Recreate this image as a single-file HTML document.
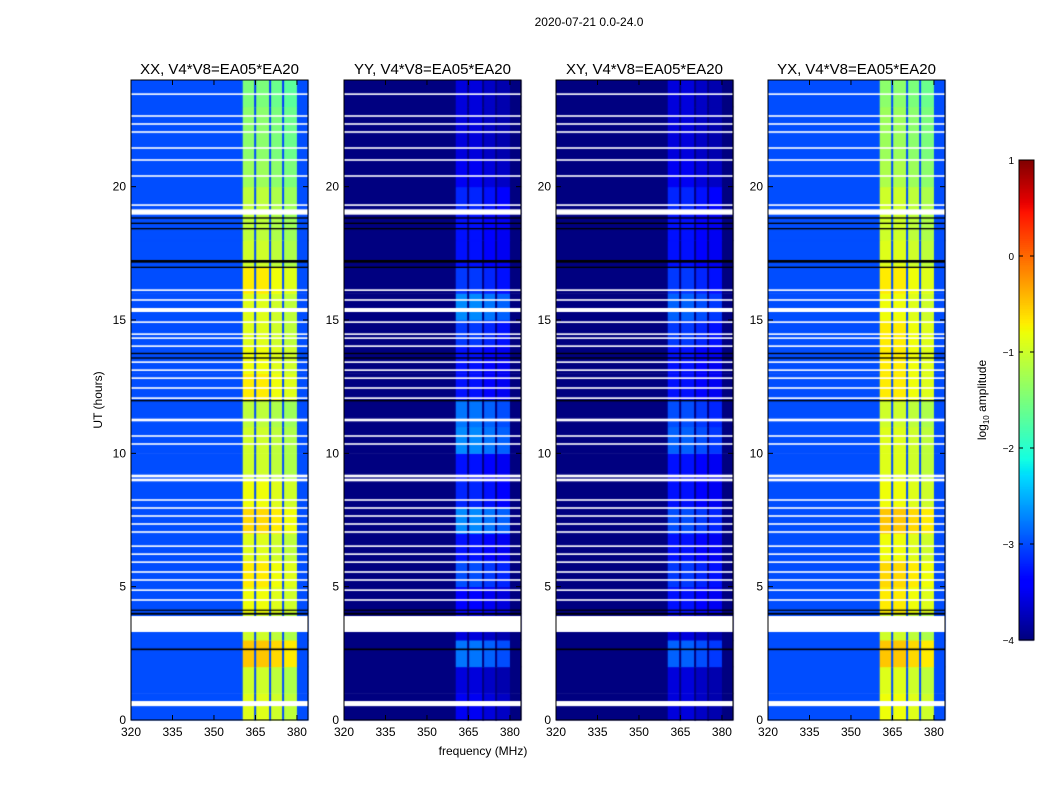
<!DOCTYPE html>
<html><head><meta charset="utf-8"><style>
body{margin:0;background:#fff;width:1050px;height:800px;overflow:hidden;font-family:"Liberation Sans",sans-serif}
#wrap{position:relative;width:1050px;height:800px}
canvas{position:absolute}
svg{position:absolute;left:0;top:0}
</style></head><body>
<div id="wrap">
<svg id="ov" width="1050" height="800"></svg>
</div>
<script>
// ---- data ----
const panelTitles=["XX, V4*V8=EA05*EA20","YY, V4*V8=EA05*EA20","XY, V4*V8=EA05*EA20","YX, V4*V8=EA05*EA20"];
const freqEdges=[320,360.4,365,370.3,375,380,384];
const gapFreqs=[364.9,370.3,375.0];
const bgLevel=[-3.0,-4.0,-4.0,-3.0];
const subOffset=[0,0,-0.1,-0.2];
const bandXX=[-0.9,-1.0,-0.5,-1.0,-0.8,-0.7,-0.9,-0.6,-0.8,-1.0,-1.0,-1.1,-0.7,-0.8,-0.9,-0.9,-0.7,-1.0,-1.1,-1.1,-1.3,-1.4,-1.4,-1.5];
const bandYY=[-3.5,-3.6,-2.8,-3.6,-3.4,-3.0,-3.3,-2.7,-3.2,-3.3,-2.7,-2.8,-3.3,-3.3,-3.1,-2.7,-3.1,-3.3,-3.3,-3.2,-3.5,-3.6,-3.6,-3.6];
const bandXY=[-3.6,-3.6,-2.9,-3.6,-3.3,-3.1,-3.3,-3.0,-3.3,-3.3,-2.9,-3.0,-3.3,-3.3,-3.1,-2.9,-3.1,-3.3,-3.3,-3.2,-3.5,-3.6,-3.6,-3.6];
const bandYX=[-0.8,-0.9,-0.5,-1.0,-0.7,-0.6,-0.8,-0.5,-0.8,-0.9,-0.9,-1.0,-0.7,-0.7,-0.7,-0.8,-0.7,-0.9,-1.0,-1.0,-1.2,-1.3,-1.3,-1.4];
const bands=[bandXX,bandYY,bandXY,bandYX];
const whiteRows=[[23.44,23.5],[22.62,22.68],[22.32,22.38],[22.02,22.08],[21.42,21.48],[20.97,21.03],[20.37,20.43],[19.28,19.34],[18.95,19.15],[16.09,16.15],[15.72,15.78],[15.3,15.45],[14.89,14.95],[14.44,14.5],[14.29,14.35],[13.99,14.05],[13.39,13.45],[13.09,13.15],[12.79,12.85],[12.42,12.48],[12.04,12.1],[11.2,11.3],[10.62,10.68],[10.32,10.38],[9.1,9.2],[8.95,9.05],[8.22,8.28],[7.92,7.98],[7.62,7.68],[7.32,7.38],[7.02,7.08],[6.49,6.55],[6.19,6.25],[5.89,5.95],[5.52,5.58],[5.22,5.28],[4.84,4.9],[4.47,4.53],[3.3,3.9],[0.52,0.71]];
const blackRows=[[18.4,18.45],[18.6,18.65],[18.8,18.85],[16.95,17.0],[17.15,17.25],[13.55,13.6],[13.72,13.77],[11.95,12.0],[3.95,4.02],[4.1,4.14],[2.62,2.68]];
const yTicks=[0,5,10,15,20];
const xTicks=[320,335,350,365,380];
const cbTicks=[1,0,-1,-2,-3,-4];
// ---- layout ----
const panelX=[131,344,556,768], PW=177, PT=80, PB=720;
const fMin=320,fMax=384,tMax=24;
const xs=(i,f)=>panelX[i]+(f-fMin)/(fMax-fMin)*PW;
const ys=t=>PB-t/tMax*(PB-PT);
function interp(x,pts){for(let i=0;i<pts.length-1;i++){const a=pts[i],b=pts[i+1];if(x<=b[0]){return a[1]+(b[1]-a[1])*(x-a[0])/(b[0]-a[0]);}}return pts[pts.length-1][1];}
function jet(v){let x=(v+4)/5;x=Math.max(0,Math.min(1,x));
 const r=interp(x,[[0,0],[0.35,0],[0.66,1],[0.89,1],[1,0.5]]);
 const g=interp(x,[[0,0],[0.125,0],[0.375,1],[0.64,1],[0.91,0],[1,0]]);
 const b=interp(x,[[0,0.5],[0.11,1],[0.34,1],[0.65,0],[1,0]]);
 return `rgb(${Math.round(r*255)},${Math.round(g*255)},${Math.round(b*255)})`;}
const wrap=document.getElementById('wrap');
const svg=document.getElementById('ov');
const NS="http://www.w3.org/2000/svg";
function el(tag,attrs,txt){const e=document.createElementNS(NS,tag);for(const k in attrs)e.setAttribute(k,attrs[k]);if(txt!=null)e.textContent=txt;svg.appendChild(e);return e;}
const cv=document.createElement('canvas');cv.width=1050;cv.height=800;cv.style.left='0';cv.style.top='0';


wrap.insertBefore(cv,svg);
const ctx=cv.getContext('2d');
for(let p=0;p<4;p++){
 const band=bands[p];
 for(let h=0;h<24;h++){
  const y0=ys(h+1),y1=ys(h);
  for(let b=0;b<freqEdges.length-1;b++){
   const sb=b-1;let v=(sb>=0&&sb<4)?band[h]+subOffset[sb]:bgLevel[p];
   ctx.fillStyle=jet(v);
   const x0=xs(p,freqEdges[b]),x1=xs(p,freqEdges[b+1]);
   ctx.fillRect(x0,y0,x1-x0+0.5,y1-y0+0.5);
  }
  for(const g of gapFreqs){ctx.fillStyle=jet(Math.min(band[h]-1.6,-3.0));ctx.fillRect(xs(p,g)-1,y0,2,y1-y0+0.5);}
 }
 ctx.fillStyle='#000';
 for(const r of blackRows){ctx.fillRect(panelX[p],ys(r[1]),PW,Math.max(1.2,ys(r[0])-ys(r[1])));}
 ctx.fillStyle='#fff';
 for(const r of whiteRows){ctx.fillRect(panelX[p],ys(r[1]),PW,Math.max(1.5,ys(r[0])-ys(r[1])));}
 const f=el('rect',{x:panelX[p],y:PT,width:PW,height:PB-PT,fill:'none',stroke:'#000','stroke-width':1});
 
 
 const t=el('text',{x:panelX[p]+PW/2,y:74,'text-anchor':'middle','font-size':15},panelTitles[p]);
 
 
 for(const v of yTicks){const y=ys(v);
  el('line',{x1:panelX[p],x2:panelX[p]+5,y1:y,y2:y,stroke:'#000'});
  el('line',{x1:panelX[p]+PW,x2:panelX[p]+PW-5,y1:y,y2:y,stroke:'#000'});
  const l=el('text',{x:panelX[p]-5,y:y+4,'text-anchor':'end','font-size':12},String(v));
  
  }
 for(const v of xTicks){const x=xs(p,v);
  el('line',{x1:x,x2:x,y1:PB,y2:PB-5,stroke:'#000'});
  el('line',{x1:x,x2:x,y1:PT,y2:PT+5,stroke:'#000'});
  const l=el('text',{x:x,y:PB+16,'text-anchor':'middle','font-size':12},String(v));
  
  }
}
let e;
e=el('text',{x:589,y:26,'text-anchor':'middle','font-size':12},'2020-07-21 0.0-24.0');

e=el('text',{x:483,y:755,'text-anchor':'middle','font-size':12},'frequency (MHz)');

e=el('text',{x:102,y:400,'text-anchor':'middle','font-size':12,transform:'rotate(-90 102 400)'},'UT (hours)');

const cbX=1019,cbW=15,cbT=160,cbB=640;
const cy=v=>cbB-(v+4)/5*(cbB-cbT);
for(let i=0;i<240;i++){const v=-4+5*i/240;ctx.fillStyle=jet(v);ctx.fillRect(cbX,cy(v+5/240),cbW,(cbB-cbT)/240+0.6);}
e=el('rect',{x:cbX,y:cbT,width:cbW,height:cbB-cbT,fill:'none',stroke:'#000'});

for(const v of cbTicks){const y=cy(v);
 el('line',{x1:cbX,x2:cbX+4,y1:y,y2:y,stroke:'#000'});el('line',{x1:cbX+cbW,x2:cbX+cbW-4,y1:y,y2:y,stroke:'#000'});
 e=el('text',{x:cbX-5,y:y+4,'text-anchor':'end','font-size':10},v<0?'\u2212'+(-v):String(v));
 }
e=el('text',{x:986,y:400,'text-anchor':'middle','font-size':12,transform:'rotate(-90 986 400)'});
e.innerHTML='log<tspan font-size="8" dy="3">10</tspan><tspan dy="-3"> amplitude</tspan>';

</script>
</body></html>
